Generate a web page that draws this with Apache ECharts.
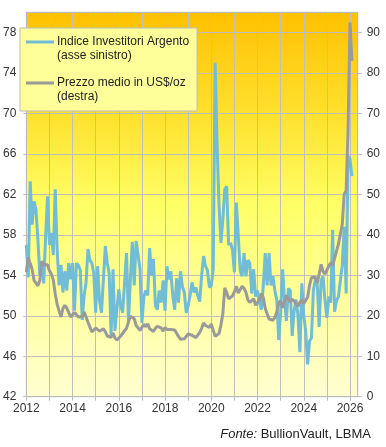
<!DOCTYPE html>
<html><head><meta charset="utf-8">
<script src="https://cdn.jsdelivr.net/npm/echarts@6/dist/echarts.min.js"></script>
<style>html,body{margin:0;padding:0;background:#fff}#c{width:386px;height:447px}</style>
</head><body><div id="c"></div>
<script>
// Monthly data, Jan 2012 .. Feb 2026
const startYear = 2012;
const investorIndex = [
  57.0, 53.8, 63.3, 59.0, 61.3, 60.5, 57.5, 54.0, 55.0, 53.2, 57.8, 61.8,
  57.0, 58.2, 56.0, 62.5, 56.5, 53.0, 55.0, 52.3, 54.4, 52.5, 55.2, 53.6,
  55.2, 50.5, 55.2, 55.0, 54.5, 49.6, 52.0, 53.3, 56.6, 55.5, 55.2, 54.2,
  50.3, 54.9, 51.5, 50.3, 53.6, 56.9, 55.2, 54.2, 48.1, 54.6, 48.5, 50.6,
  52.6, 51.0, 50.3, 53.3, 56.2, 49.4, 53.6, 57.3, 53.0, 57.4, 56.0, 54.6,
  49.3, 51.9, 52.5, 52.0, 56.7, 54.0, 55.6, 51.0, 50.6, 52.5, 51.3, 53.5,
  50.5, 54.9, 53.6, 54.4, 52.0, 50.6, 53.7, 51.3, 54.4, 52.9, 52.3, 50.3,
  51.0, 52.0, 53.3, 52.3, 52.8, 52.0, 51.4, 54.0, 55.9, 54.9, 54.5, 52.8,
  53.0, 54.6, 75.0, 67.0, 61.0, 57.2, 59.5, 62.5, 62.8, 57.0, 57.2, 56.5,
  54.3, 61.2, 58.0, 54.5, 53.9, 56.2, 53.9, 55.5, 55.2, 52.2, 54.6, 51.9,
  52.5, 51.3, 50.6, 53.0, 56.2, 53.0, 56.2, 53.0, 53.9, 52.5, 51.6, 47.6,
  50.3, 54.6, 51.6, 49.5, 52.7, 52.5, 48.0, 50.5, 51.6, 50.0, 46.4, 53.2,
  50.0, 48.5, 45.2, 47.5, 47.8, 52.5, 53.6, 53.2, 48.9, 53.5, 53.9, 51.6,
  49.8, 51.9, 51.3, 58.5, 50.4, 51.5, 51.9, 51.9, 55.0, 58.8, 52.2, 65.8,
  65.5, 63.8
];
const silverPrice = [
  30.8, 34.5, 32.9, 31.5, 28.7, 28.1, 27.4, 28.7, 33.5, 32.6, 32.7, 32.6,
  31.1, 30.3, 28.8, 25.4, 22.8, 21.2, 19.7, 21.8, 22.6, 21.9, 20.8, 19.7,
  19.9, 20.8, 20.7, 19.7, 19.3, 19.8, 20.9, 19.7, 18.4, 17.2, 16.0, 16.1,
  17.0, 16.9, 16.2, 16.3, 16.8, 16.1, 15.0, 14.9, 14.7, 15.7, 14.5, 14.0,
  14.1, 15.0, 15.4, 16.3, 16.9, 17.2, 19.9, 19.6, 19.3, 17.6, 17.3, 16.4,
  16.8, 17.9, 17.3, 18.0, 16.8, 16.9, 16.1, 16.9, 17.4, 17.0, 17.0, 16.2,
  17.1, 16.6, 16.5, 16.6, 16.5, 16.5, 15.7, 14.9, 14.2, 14.6, 14.3, 14.6,
  15.5, 15.8, 15.2, 15.0, 14.6, 14.9, 15.9, 16.9, 18.2, 17.6, 17.2, 17.1,
  18.0, 17.9, 14.9, 15.1, 15.6, 17.7, 20.5, 26.9, 25.7, 24.2, 24.0, 24.9,
  25.9, 27.3, 25.6, 25.6, 27.3, 26.8, 25.8, 23.9, 23.3, 23.4, 24.2, 22.6,
  23.3, 23.9, 25.5, 24.5, 21.8, 21.5, 19.2, 19.6, 18.9, 19.6, 20.9, 23.2,
  23.7, 22.0, 21.7, 25.0, 24.2, 23.4, 24.1, 23.6, 23.4, 22.3, 23.4, 23.9,
  23.0, 22.7, 24.6, 27.5, 29.4, 29.7, 29.6, 28.1, 30.3, 32.7, 31.0, 30.3,
  30.3, 32.3, 33.1, 32.4, 32.7, 36.0, 37.7, 38.1, 42.6, 50.1, 50.9, 66.0,
  92.5, 83.0
];
const xLabelYears = [2012, 2014, 2016, 2018, 2020, 2022, 2024, 2026];
const leftTicks = [42, 46, 50, 54, 58, 62, 66, 70, 74, 78];
const rightTicks = [0, 10, 20, 30, 40, 50, 60, 70, 80, 90];
const seriesNames = ['Indice Investitori Argento\n(asse sinistro)', 'Prezzo medio in US$/oz\n(destra)'];
const sourceLabel = ['Fonte:', ' BullionVault, LBMA'];

const FONT = "'Liberation Sans', Arial, sans-serif";
const toPoints = arr => arr.map((v, i) => [startYear + i / 12, v]);

const chart = echarts.init(document.getElementById('c'), null, {renderer: 'canvas'});
const iconPath = 'path://M0,5.5H28V8.5H0Z M0,0H0.01V0.01H0Z M0,27.99H0.01V28H0Z';
chart.setOption({
  animation: false,
  grid: {
    left: 23.3, right: 28.3, top: 12.3, bottom: 50.3,
    show: true, borderColor: '#BBBBBB', borderWidth: 1,
    backgroundColor: {
      type: 'linear', x: 0, y: 0, x2: 0, y2: 1,
      colorStops: [
        {offset: 0, color: '#FFC000'},
        {offset: 0.3, color: '#FFE535'},
        {offset: 0.5, color: '#FFFF66'},
        {offset: 0.75, color: '#FFFF9E'},
        {offset: 1, color: '#FFFFD2'}
      ]
    }
  },
  legend: {
    orient: 'vertical', left: 20, top: 28,
    padding: [7, 8, 7, 6],
    backgroundColor: '#FFFF99', borderColor: '#BBBBBB', borderWidth: 1,
    itemWidth: 28, itemHeight: 28, itemGap: 13,
    icon: iconPath,
    itemStyle: {borderWidth: 0},
    textStyle: {fontFamily: FONT, fontSize: 12, color: '#222', lineHeight: 14, padding: [0, 0, 0, -2]},
    data: seriesNames
  },
  xAxis: {
    type: 'value', min: startYear, max: 2026 + 1 / 3, interval: 1,
    axisLine: {lineStyle: {color: '#BBBBBB'}},
    axisTick: {show: true, length: 4, lineStyle: {color: '#BBBBBB'}},
    axisLabel: {
      fontFamily: FONT, fontSize: 12, color: '#333', margin: 6,
      showMaxLabel: false,
      formatter: v => xLabelYears.indexOf(Math.round(v * 1000) / 1000) >= 0 ? String(v) : ''
    },
    splitLine: {show: true, lineStyle: {color: '#BFBFBF', width: 1}}
  },
  yAxis: [
    {
      type: 'value', min: 42, max: 80, interval: 4, position: 'left',
      axisLine: {show: true, lineStyle: {color: '#BBBBBB'}},
      axisTick: {show: true, length: 3, lineStyle: {color: '#BBBBBB'}},
      axisLabel: {
        fontFamily: FONT, fontSize: 12, color: '#333', margin: 10,
        showMaxLabel: false,
        formatter: v => leftTicks.indexOf(v) >= 0 ? String(v) : ''
      },
      splitLine: {show: true, lineStyle: {color: '#BFBFBF', width: 1}}
    },
    {
      type: 'value', min: 0, max: 95, interval: 10, position: 'right',
      axisLine: {show: true, lineStyle: {color: '#BBBBBB'}},
      axisTick: {show: true, length: 4, lineStyle: {color: '#BBBBBB'}},
      axisLabel: {
        fontFamily: FONT, fontSize: 12, color: '#333', margin: 9,
        showMaxLabel: false,
        formatter: v => rightTicks.indexOf(v) >= 0 ? String(v) : ''
      },
      splitLine: {show: false}
    }
  ],
  series: [
    {
      name: seriesNames[0], type: 'line', yAxisIndex: 0,
      data: toPoints(investorIndex), showSymbol: false, symbol: 'none',
      lineStyle: {color: '#71BDD7', width: 3}, itemStyle: {color: '#71BDD7'}, z: 2
    },
    {
      name: seriesNames[1], type: 'line', yAxisIndex: 1,
      data: toPoints(silverPrice), showSymbol: false, symbol: 'none',
      lineStyle: {color: '#9A9A9A', width: 3}, itemStyle: {color: '#9A9A9A'}, z: 3
    }
  ],
  graphic: [
    {
      type: 'text', right: 15, bottom: 6,
      style: {
        text: '{i|' + sourceLabel[0] + '}{n|' + sourceLabel[1] + '}',
        rich: {
          i: {fontFamily: FONT, fontSize: 13, fontStyle: 'italic', fill: '#222'},
          n: {fontFamily: FONT, fontSize: 13, fill: '#222'}
        }
      }
    }
  ]
});
</script>
</body></html>
